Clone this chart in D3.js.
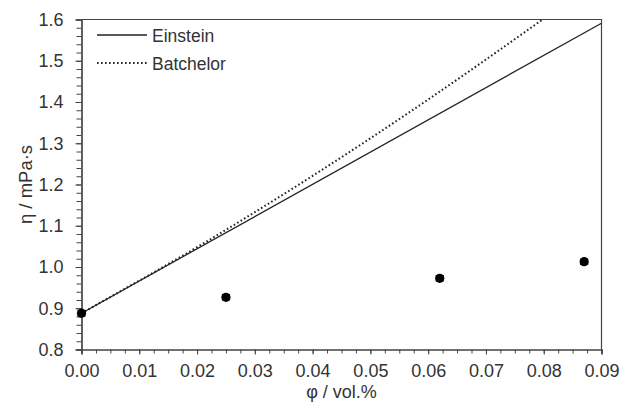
<!DOCTYPE html>
<html><head><meta charset="utf-8">
<script src="https://cdn.jsdelivr.net/npm/d3@7"></script>
<style>body{margin:0;background:#fff}svg{display:block}</style>
</head><body>
<svg id="c" width="621" height="412"></svg>
<script>
// Measured data (φ / vol.%, η / mPa·s)
const phiData = [0.0, 0.025, 0.062, 0.087];
const etaData = [0.888, 0.9265, 0.9726, 1.0129];
const etaErr  = [0.006, 0.006, 0.006, 0.006];
// Einstein model line
const einsteinPhi = [0.0, 0.09];
const einsteinEta = [0.888, 1.591];
// Batchelor model curve
const batchelorPhi = [0.0, 0.01, 0.02, 0.03, 0.04, 0.05, 0.06, 0.07, 0.08];
const batchelorEta = [0.888, 0.967, 1.048, 1.133, 1.221, 1.312, 1.406, 1.503, 1.602];
const xTicks = [0.00, 0.01, 0.02, 0.03, 0.04, 0.05, 0.06, 0.07, 0.08, 0.09];
const yTicks = [0.8, 0.9, 1.0, 1.1, 1.2, 1.3, 1.4, 1.5, 1.6];
const legendLabels = ["Einstein", "Batchelor"];

const svg = d3.select("#c");
const L = 81.5, R = 601.5, T = 19.5, B = 349.5;
const x = d3.scaleLinear().domain([0, 0.09]).range([L, R]);
const y = d3.scaleLinear().domain([0.8, 1.6]).range([B, T]);
const font = "'Liberation Sans', Arial, sans-serif";
const axisCol = "#444";

svg.append("defs").append("clipPath").attr("id", "clip")
  .append("rect").attr("x", L).attr("y", T).attr("width", R - L).attr("height", B - T);

// minor ticks
const xMinor = d3.range(0, 0.09 + 1e-9, 0.0025);
const yMinor = d3.range(0.8, 1.6 + 1e-9, 0.02);
const xAxis = svg.append("g").attr("transform", `translate(0,${B})`)
  .call(d3.axisBottom(x).tickValues(xMinor).tickSize(4).tickFormat(""));
const xAxisMaj = svg.append("g").attr("transform", `translate(0,${B})`)
  .call(d3.axisBottom(x).tickValues(xTicks).tickSize(5).tickPadding(10).tickFormat(d3.format(".2f")));
const yAxis = svg.append("g").attr("transform", `translate(${L},0)`)
  .call(d3.axisLeft(y).tickValues(yMinor).tickSize(5).tickFormat(""));
const yAxisMaj = svg.append("g").attr("transform", `translate(${L},0)`)
  .call(d3.axisLeft(y).tickValues(yTicks).tickSize(6).tickPadding(12).tickFormat(d3.format(".1f")));
[xAxis, xAxisMaj, yAxis, yAxisMaj].forEach(g => {
  g.select(".domain").attr("stroke", axisCol).attr("stroke-width", 1.2);
  g.selectAll(".tick line").attr("stroke", axisCol).attr("stroke-width", 1);
  g.selectAll("text").attr("fill", "#333").style("font-family", font).style("font-size", "18px");
});
// top & right frame
svg.append("path").attr("d", `M${L},${T}H${R}V${B}`).attr("fill", "none")
  .attr("stroke", axisCol).attr("stroke-width", 1.2);

const plot = svg.append("g").attr("clip-path", "url(#clip)");
const line = d3.line().x(d => x(d[0])).y(d => y(d[1]));
plot.append("path").datum(d3.zip(einsteinPhi, einsteinEta))
  .attr("d", line).attr("fill", "none").attr("stroke", "#222").attr("stroke-width", 1.3);
plot.append("path").datum(d3.zip(batchelorPhi, batchelorEta))
  .attr("d", line.curve(d3.curveMonotoneX)).attr("fill", "none").attr("stroke", "#222")
  .attr("stroke-width", 2).attr("stroke-dasharray", "1.6,2.4");

// points with error bars
const pts = svg.append("g");
phiData.forEach((p, i) => {
  const cx = x(p), e = etaErr[i];
  pts.append("path").attr("d",
    `M${cx},${y(etaData[i] - e)}V${y(etaData[i] + e)}M${cx - 4},${y(etaData[i] - e)}H${cx + 4}M${cx - 4},${y(etaData[i] + e)}H${cx + 4}`)
    .attr("stroke", "#000").attr("stroke-width", 1.6).attr("fill", "none");
  pts.append("circle").attr("cx", cx).attr("cy", y(etaData[i])).attr("r", 4.6).attr("fill", "#000");
});

// legend
const lg = svg.append("g");
legendLabels.forEach((t, i) => {
  const ly = 35 + i * 28;
  lg.append("line").attr("x1", 97).attr("x2", 147).attr("y1", ly).attr("y2", ly)
    .attr("stroke", "#222").attr("stroke-width", i ? 2 : 1.3)
    .attr("stroke-dasharray", i ? "1.6,2.4" : null);
  lg.append("text").attr("x", 152).attr("y", ly + 6.5).text(t)
    .attr("fill", "#333").style("font-family", font).style("font-size", "17.5px");
});

// axis titles
svg.append("text").attr("x", (L + R) / 2).attr("y", 398).attr("text-anchor", "middle")
  .attr("fill", "#333").style("font-family", font).style("font-size", "18px").text("φ / vol.%");
svg.append("text").attr("transform", `translate(32,${(T + B) / 2}) rotate(-90)`)
  .attr("text-anchor", "middle").attr("fill", "#333")
  .style("font-family", font).style("font-size", "18.5px").text("η / mPa·s");
</script>
</body></html>
